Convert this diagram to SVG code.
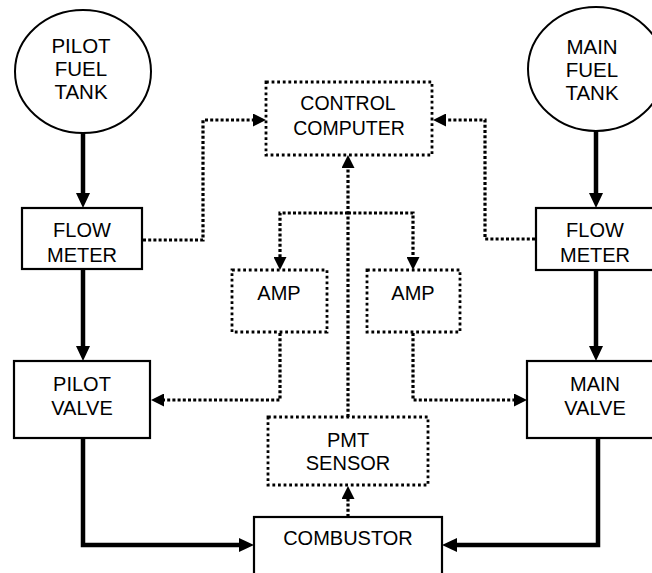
<svg xmlns="http://www.w3.org/2000/svg" width="652" height="573" viewBox="0 0 652 573">
<style>
  .bg{fill:#fff}
  .box{fill:#fff;stroke:#000;stroke-width:2.2}
  .dbox{fill:#fff;stroke:#000;stroke-width:2.8;stroke-dasharray:2.8 2.8}
  .tank{fill:#fff;stroke:#000;stroke-width:2}
  .flow{fill:none;stroke:#000;stroke-width:4.5;stroke-linejoin:miter}
  .sig{fill:none;stroke:#000;stroke-width:3.2;stroke-dasharray:3 2.2}
  text{font-family:"Liberation Sans",Arial,sans-serif;font-size:20px;fill:#000;text-anchor:middle}
  .tk{font-size:20.5px}
  .cc{font-size:19.5px}
</style>
<defs>
  <marker id="ah" viewBox="0 0 15 14" refX="1" refY="7" markerWidth="15" markerHeight="14" markerUnits="userSpaceOnUse" orient="auto">
    <path d="M0,0 L15,7 L0,14 z" fill="#000"/>
  </marker>
  <marker id="ahd" viewBox="0 0 13 13" refX="1" refY="6.5" markerWidth="13" markerHeight="13" markerUnits="userSpaceOnUse" orient="auto">
    <path d="M0,0 L13,6.5 L0,13 z" fill="#000"/>
  </marker>
</defs>
<rect class="bg" x="0" y="0" width="652" height="573"/>

<g id="connectors">
  <path class="flow" d="M83,133 V194" marker-end="url(#ah)"/>
  <path class="flow" d="M83,269 V347" marker-end="url(#ah)"/>
  <path class="flow" d="M83,438 V545 H240" marker-end="url(#ah)"/>
  <path class="flow" d="M596,131 V194" marker-end="url(#ah)"/>
  <path class="flow" d="M596,270 V347" marker-end="url(#ah)"/>
  <path class="flow" d="M598,438 V545 H456" marker-end="url(#ah)"/>
  <path class="sig" d="M143,240 H203 V120 H254" marker-end="url(#ahd)"/>
  <path class="sig" d="M535,239 H485 V120 H445" marker-end="url(#ahd)"/>
  <path class="sig" d="M348,417 V167" marker-end="url(#ahd)"/>
  <path class="sig" d="M348,213 H280 V258" marker-end="url(#ahd)"/>
  <path class="sig" d="M348,213 H413 V258" marker-end="url(#ahd)"/>
  <path class="sig" d="M280,333 V400 H163" marker-end="url(#ahd)"/>
  <path class="sig" d="M413,333 V400 H515" marker-end="url(#ahd)"/>
  <path class="sig" d="M348,517 V498" marker-end="url(#ahd)"/>
</g>

<g id="pilot-fuel-tank">
  <ellipse class="tank" cx="83" cy="71.5" rx="68" ry="61.5"/>
  <text class="tk" x="81" y="53">PILOT</text>
  <text class="tk" x="81" y="76">FUEL</text>
  <text class="tk" x="81" y="99">TANK</text>
</g>

<g id="main-fuel-tank">
  <ellipse class="tank" cx="596" cy="69" rx="68" ry="62"/>
  <text class="tk" x="592" y="54">MAIN</text>
  <text class="tk" x="592" y="77">FUEL</text>
  <text class="tk" x="592" y="100">TANK</text>
</g>

<g id="pilot-flow-meter">
  <rect class="box" x="22" y="208" width="120" height="61"/>
  <text x="82" y="237">FLOW</text>
  <text x="82" y="262">METER</text>
</g>

<g id="main-flow-meter">
  <rect class="box" x="536" y="208" width="124" height="62"/>
  <text x="595" y="237">FLOW</text>
  <text x="595" y="262">METER</text>
</g>

<g id="pilot-valve">
  <rect class="box" x="14" y="361" width="136" height="77"/>
  <text x="82" y="391">PILOT</text>
  <text x="82" y="415">VALVE</text>
</g>

<g id="main-valve">
  <rect class="box" x="527" y="361" width="140" height="77"/>
  <text x="595" y="391">MAIN</text>
  <text x="595" y="415">VALVE</text>
</g>

<g id="control-computer">
  <rect class="dbox" x="266" y="82" width="166" height="73"/>
  <text class="cc" x="348" y="110">CONTROL</text>
  <text class="cc" x="349" y="135">COMPUTER</text>
</g>

<g id="amp-left">
  <rect class="dbox" x="232" y="270" width="95" height="62"/>
  <text x="279" y="300">AMP</text>
</g>

<g id="amp-right">
  <rect class="dbox" x="367" y="270" width="93" height="62"/>
  <text x="413" y="300">AMP</text>
</g>

<g id="pmt-sensor">
  <rect class="dbox" x="268" y="417" width="160" height="68"/>
  <text x="348" y="447">PMT</text>
  <text x="348" y="470">SENSOR</text>
</g>

<g id="combustor">
  <rect class="box" x="254" y="517" width="188" height="80"/>
  <text x="348" y="545">COMBUSTOR</text>
</g>
</svg>
